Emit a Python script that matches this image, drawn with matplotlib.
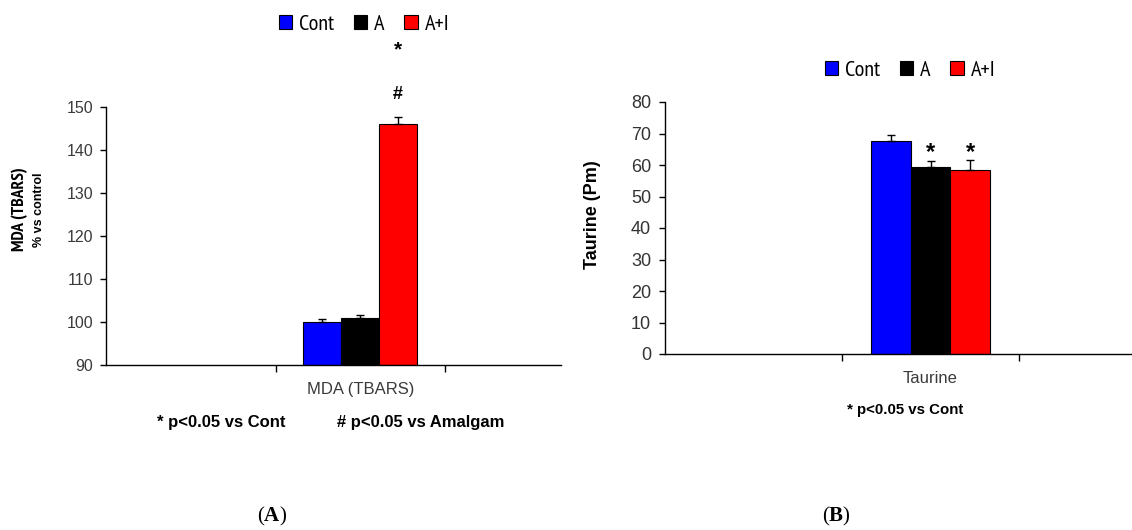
import matplotlib
matplotlib.use("Agg")
import matplotlib.pyplot as plt

# ---------------- data ----------------
groups = ["Cont", "A", "A+I"]
colors = ["#0000FF", "#000000", "#FF0000"]

# Panel A: MDA (TBARS), % vs control
mda_category = "MDA (TBARS)"
mda_values = [100.0, 100.9, 146.0]
mda_errors = [0.7, 0.7, 1.7]
mda_yticks = [90, 100, 110, 120, 130, 140, 150]

# Panel B: Taurine (Pm)
tau_category = "Taurine"
tau_values = [67.7, 59.4, 58.5]
tau_errors = [1.8, 1.9, 3.0]
tau_yticks = [0, 10, 20, 30, 40, 50, 60, 70, 80]

SANS = ["Liberation Sans", "DejaVu Sans"]
NARROW = ["PT Sans Narrow", "Archivo Narrow", "Liberation Sans", "DejaVu Sans"]
plt.rcParams["font.family"] = SANS
plt.rcParams["mathtext.fontset"] = "custom"
plt.rcParams["mathtext.rm"] = "Liberation Serif"
plt.rcParams["mathtext.bf"] = "Liberation Serif:bold"

W, H = 1132, 530
fig = plt.figure(figsize=(W / 100, H / 100), dpi=100)


def px_axes(l, t, r, b):
    return fig.add_axes([l / W, 1 - b / H, (r - l) / W, (b - t) / H])


bar_w = 0.67 / 3
offsets = [-bar_w, 0.0, bar_w]
cat_pos = 1  # the one filled category among three slots


def draw_panel(ax, values, errors, category, ylim, yticks, tick_size, tick_color,
               ytick_pad):
    handles = []
    for i, (v, e) in enumerate(zip(values, errors)):
        x = cat_pos + offsets[i]
        b = ax.bar(x, v - ylim[0], bottom=ylim[0], width=bar_w, color=colors[i],
                   edgecolor="#000000", linewidth=0.8, label=groups[i], zorder=2)
        handles.append(b[0])
        ax.errorbar(x, v, yerr=[[0], [e]], fmt="none", ecolor="black",
                    elinewidth=1.0, capsize=3, capthick=1.0, zorder=3)
    ax.set_ylim(*ylim)
    ax.set_yticks(yticks)
    ax.set_xticks([cat_pos])
    ax.set_xticklabels([category], fontsize=12, color="#3a3a3a")
    ax.set_xticks([0.5, 1.5], minor=True)
    ax.tick_params(axis="x", which="major", length=0, pad=12)
    ax.tick_params(axis="x", which="minor", length=5, width=1, direction="out")
    ax.tick_params(axis="y", length=4, width=1, direction="out",
                   labelsize=tick_size, labelcolor=tick_color, pad=ytick_pad)
    for s in ("top", "right"):
        ax.spines[s].set_visible(False)
    for s in ("left", "bottom"):
        ax.spines[s].set_linewidth(1.0)
    return handles


legend_kw = dict(loc="center", ncol=3, frameon=False,
                 handlelength=0.6, handleheight=0.6, handletextpad=0.3,
                 columnspacing=0.9, borderpad=0, borderaxespad=0,
                 prop={"family": NARROW, "size": 16})

# ---------- Panel A ----------
axA = px_axes(106, 107, 561, 365)
hA = draw_panel(axA, mda_values, mda_errors, mda_category, (90, 150), mda_yticks,
                11.5, "#3a3a3a", 5)
axA.set_xlim(-0.5, -0.5 + (561 - 106) / 169.5)
axA.text(cat_pos + offsets[2], 152.8, "#", ha="center", va="center",
         fontsize=13, fontweight="bold", clip_on=False)
axA.text(cat_pos + offsets[2], 163.3, "*", ha="center", va="center",
         fontsize=15, fontweight="bold", clip_on=False)

fig.text(20 / W, 1 - 209 / H, "MDA (TBARS)", rotation=90, ha="center",
         va="center", fontsize=12.5, fontweight="bold", family=NARROW)
fig.text(39 / W, 1 - 210 / H, "% vs control", rotation=90, ha="center",
         va="center", fontsize=9, fontweight="bold")

fig.legend(handles=hA, labels=groups, bbox_to_anchor=(364 / W, 1 - 24 / H),
           **legend_kw)

fig.text(157 / W, 1 - 423 / H, "* p<0.05 vs Cont", ha="left", va="center",
         fontsize=12, fontweight="bold")
fig.text(337 / W, 1 - 423 / H, "# p<0.05 vs Amalgam", ha="left", va="center",
         fontsize=12, fontweight="bold")

# ---------- Panel B ----------
axB = px_axes(665, 102, 1132, 354)
hB = draw_panel(axB, tau_values, tau_errors, tau_category, (0, 80), tau_yticks,
                13, "#333333", 6)
axB.set_xlim(-0.5, -0.5 + (1132 - 665) / 177.0)
for i in (1, 2):
    axB.text(cat_pos + offsets[i], tau_values[i] + tau_errors[i] + 2.6, "*",
             ha="center", va="center", fontsize=17, fontweight="bold")

fig.text(592 / W, 1 - 215 / H, "Taurine (Pm)", rotation=90, ha="center",
         va="center", fontsize=13, fontweight="bold")

fig.legend(handles=hB, labels=groups, bbox_to_anchor=(910 / W, 1 - 70 / H),
           **legend_kw)

fig.text(905 / W, 1 - 410 / H, "* p<0.05 vs Cont", ha="center", va="center",
         fontsize=10.8, fontweight="bold")

# panel captions
fig.text(272 / W, 1 - 516 / H, r"$\mathrm{(}\mathbf{A}\mathrm{)}$", ha="center",
         va="center", fontsize=15)
fig.text(836 / W, 1 - 516 / H, r"$\mathrm{(}\mathbf{B}\mathrm{)}$", ha="center",
         va="center", fontsize=15)

fig.savefig("out.png", dpi=100, facecolor="white")
